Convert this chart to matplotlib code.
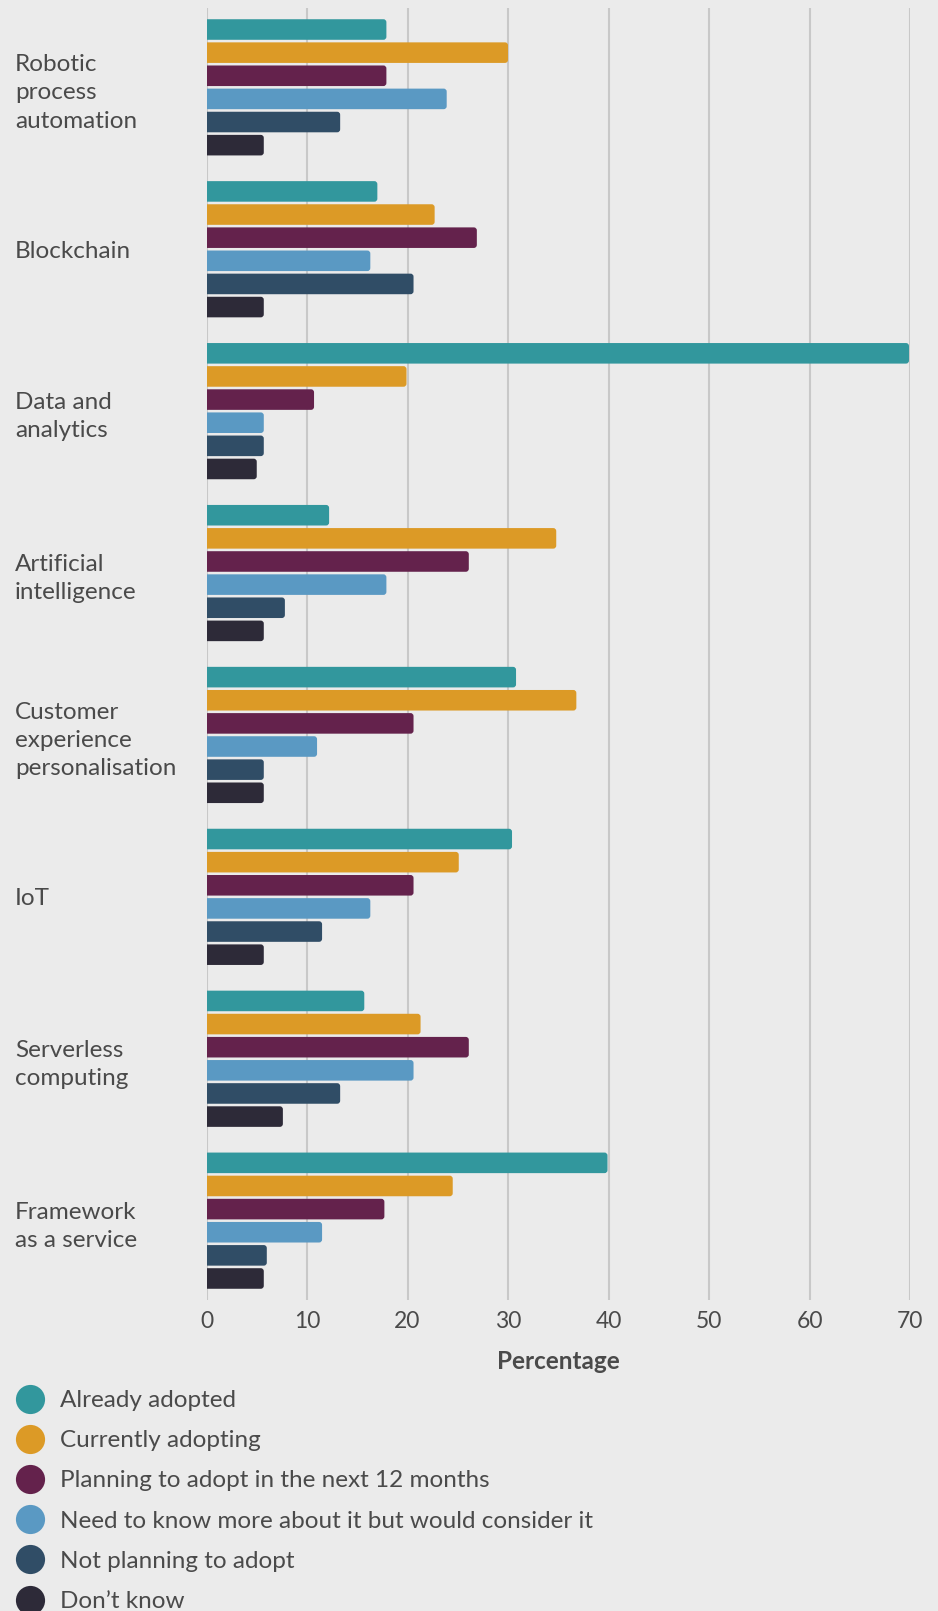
import numpy as np
import matplotlib
matplotlib.use("Agg")
import matplotlib.pyplot as plt
from matplotlib.patches import FancyBboxPatch
from matplotlib.lines import Line2D

categories = ["Robotic\nprocess\nautomation", "Blockchain", "Data and\nanalytics",
              "Artificial\nintelligence", "Customer\nexperience\npersonalisation",
              "IoT", "Serverless\ncomputing", "Framework\nas a service"]

series_names = ["Already adopted", "Currently adopting",
                "Planning to adopt in the next 12 months",
                "Need to know more about it but would consider it",
                "Not planning to adopt", "Don\u2019t know"]

already_adopted = [17.9, 17.0, 69.9, 12.2, 30.8, 30.4, 15.7, 39.9]
currently_adopting = [30.0, 22.7, 19.9, 34.8, 36.8, 25.1, 21.3, 24.5]
planning_12m = [17.9, 26.9, 10.7, 26.1, 20.6, 20.6, 26.1, 17.7]
need_to_know = [23.9, 16.3, 5.7, 17.9, 11.0, 16.3, 20.6, 11.5]
not_planning = [13.3, 20.6, 5.7, 7.8, 5.7, 11.5, 13.3, 6.0]
dont_know = [5.7, 5.7, 5.0, 5.7, 5.7, 5.7, 7.6, 5.7]

xticks = [0, 10, 20, 30, 40, 50, 60, 70]

colors = ["#32979D", "#DC9A26", "#64224C", "#5A99C3", "#304D66", "#2D2A38"]
bg = "#EBEBEB"
txt = "#4A4A4A"

plt.rcParams['font.family'] = ['Lato', 'DejaVu Sans']
fs = 17.5

fig = plt.figure(figsize=(9.38, 16.11), dpi=100, facecolor=bg)
ax = fig.add_axes([206.5 / 938, 311 / 1611, (910 - 206.5) / 938, 1292 / 1611])
ax.set_facecolor(bg)

all_series = [already_adopted, currently_adopting, planning_12m,
              need_to_know, not_planning, dont_know]
n_series = len(all_series)
pitch = 1 / 7
bar_h = 0.127

ax.set_xlim(0, 70)
ax.set_ylim(len(categories) - 0.51, -0.49)

# rounded bars: radius in x units, aspect converts to y units
r = 0.3
aspect = (0.0186 / 0.3)
for j, vals in enumerate(all_series):
    for i, v in enumerate(vals):
        yc = i + (j - (n_series - 1) / 2) * pitch
        p = FancyBboxPatch((-r, yc - bar_h / 2), v + r, bar_h,
                           boxstyle=f"round,pad=0,rounding_size={r}",
                           mutation_aspect=aspect,
                           facecolor=colors[j], edgecolor="none", zorder=3)
        ax.add_patch(p)

ax.set_xticks(xticks)
ax.set_xticklabels([str(t) for t in xticks])
ax.grid(axis='x', color="#C8C8C8", linewidth=1.5, zorder=0)
ax.set_yticks(range(len(categories)))
ax.set_yticklabels(categories)
for lab in ax.get_yticklabels():
    lab.set_horizontalalignment('left')
    lab.set_linespacing(1.42)
ax.tick_params(axis='y', length=0, pad=138, labelsize=fs, labelcolor=txt)
ax.tick_params(axis='x', length=0, pad=8, labelsize=16.5, labelcolor=txt)
for s in ax.spines.values():
    s.set_visible(False)

ax.set_xlabel("Percentage", fontsize=fs, fontweight='bold', color=txt, labelpad=13)

# legend runs off the bottom edge, as in the original
handles = [Line2D([], [], marker='o', linestyle='none', markersize=21,
                  markerfacecolor=c, markeredgecolor='none') for c in colors]
fig.legend(handles, series_names, loc='upper left',
           bbox_to_anchor=(15 / 938, 1 - 1390 / 1611), frameon=False,
           borderaxespad=0, borderpad=0, handlelength=1.22, handletextpad=0.62,
           labelspacing=0.79, fontsize=fs, labelcolor=txt)

fig.savefig("out.png", dpi=100, facecolor=bg)
